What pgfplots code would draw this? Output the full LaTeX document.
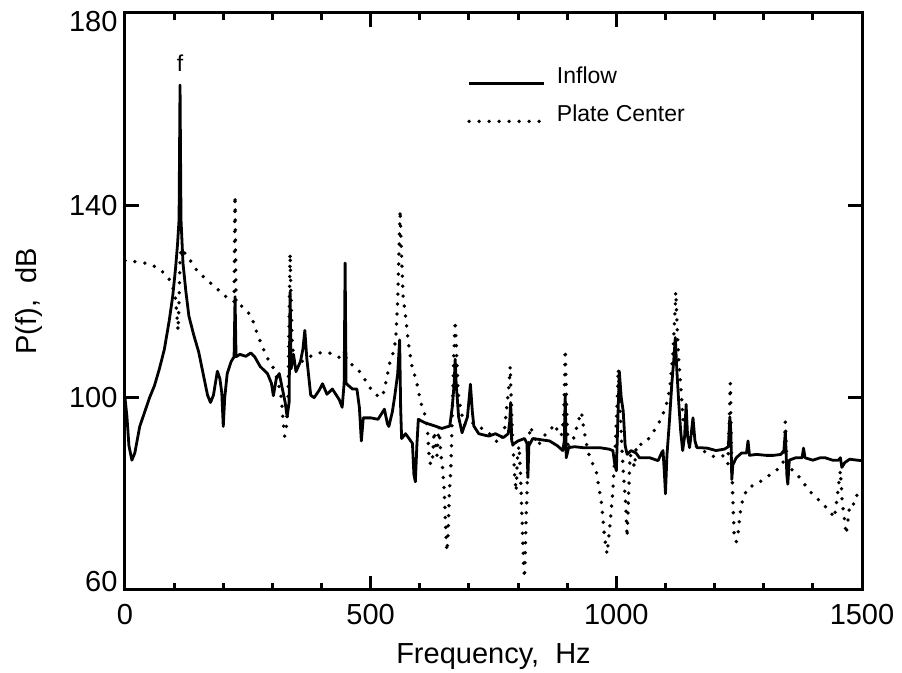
\documentclass[border=0pt]{standalone}
\usepackage{fontspec}
\setmainfont{Liberation Sans}
\usepackage{pgfplots}
\pgfplotsset{compat=1.18}

\begin{document}
\begin{tikzpicture}
\begin{axis}[
    name=ax,
    scale only axis,
    width=737pt, height=577pt,
    xmin=0, xmax=1500, ymin=60, ymax=180,
    xtick={0,500,1000,1500},
    ytick={60,100,140,180},
    minor x tick num=4,
    tick align=inside,
    major tick length=14pt,
    minor tick length=7pt,
    axis line style={line width=3pt},
    every tick/.style={black, line width=3pt},
    /pgf/number format/assume math mode=true,
    /pgf/number format/1000 sep={},
    tick label style={font=\fontsize{29}{29}\selectfont},
    xticklabel style={yshift=-11pt},
    yticklabel style={xshift=-4pt},
    yticklabel={\pgfmathparse{\tick>170 ? -9 : (\tick<70 ? 8 : 0)}%
        \raisebox{\pgfmathresult pt}[\height][\depth]{\pgfmathprintnumber{\tick}}},
    label style={font=\fontsize{29}{29}\selectfont},
    xlabel={Frequency,\ \ Hz},
    xlabel style={yshift=-12pt},
    ylabel={P(f),\ \ dB},
    ylabel style={yshift=20pt},
    legend style={at={(rel axis cs:0.464,0.91)}, anchor=north west,
        draw=none, fill=none, inner sep=0pt,
        font=\fontsize{23}{23}\selectfont, row sep=16pt},
    legend cell align=left,
    legend image code/.code={
        \draw[#1] (0pt,-7pt) -- (75pt,-7pt);
        \path (84pt,0pt);
    },
]

% Inflow
\addplot[black, line width=2.8pt, line join=round] coordinates {
(0,100) (4,96) (8,90) (14,87) (20,88.5) (30,94) (40,97) (50,100) (60,102.5)
(70,106) (80,110) (90,116) (97,121) (103,127) (107,132) (110,137) (112,165)
(114,137) (118,128) (124,122) (130,117) (140,113) (150,109.5) (160,104.5)
(168,100.5) (174,99) (180,100.5) (188,105.5) (193,104) (197,101) (200,94)
(203,100) (208,105) (216,107.5) (222,108.5) (224,121) (226,108.5) (234,109)
(246,108.6) (256,109.3) (264,108.5) (275,106.5) (290,105) (298,103) (302,100.4)
(308,104) (314,105) (320,102) (326,99) (330,96) (334,99) (336,122) (338,106)
(343,109) (348,105.4) (357,107.5) (362,110) (366,114) (370,108.2) (378,100.5)
(385,100) (395,101.5) (402,102.9) (411,100.7) (422,101.8) (436,99.6) (442,98)
(446,103) (448,128) (450,103) (455,102.5) (463,101.8) (472,101.8) (477,98)
(481,91) (485,95.8) (500,95.8) (515,95.5) (528,97.6) (534,94.6) (537,94)
(544,97) (549,100.3) (555,105) (559,112) (561,98) (563,91.5) (571,92.5)
(576,91.8) (585,90.5) (588,84) (591,82.5) (594,90) (597,95.5) (610,94.8)
(631,94.1) (645,93.6) (661,94.1) (666,98) (670,103) (672,108) (674,103)
(679,96) (686,92.7) (697,96) (703,102.8) (707,97) (710,94.1) (720,92.5)
(740,92) (754,92.5) (770,91.7) (780,92.5) (783,95) (785,99) (787,91)
(790,90.3) (800,91) (813,91.5) (818,90.5) (820,83.4) (822,90)
(830,91.5) (850,91.2) (864,91) (880,90) (891,89) (894,91) (896,100.7)
(898,87.5) (903,89.6) (915,89.8) (932,89.6) (950,89.6) (966,89.6) (985,89.3)
(993,89) (997,86) (1000,84.8) (1003,95) (1006,105.5) (1010,100) (1014,97.2)
(1018,90) (1022,88.2) (1030,89) (1040,88.5) (1047,87.5) (1068,87.5) (1085,86.9)
(1092,88.5) (1095,89) (1098,84) (1100,80) (1103,88) (1108,95) (1113,103)
(1117,108) (1120,112.5) (1123,106) (1127,99) (1131,93) (1135,89) (1139,92)
(1142,98.6) (1145,92) (1149,89.6) (1153,93) (1156,95.8) (1160,91) (1164,89.6)
(1170,89.6) (1185,89.5) (1203,89) (1220,89.3) (1228,89.8) (1231,96) (1233,93)
(1235,83) (1237,86) (1244,87.5) (1255,88.5) (1265,88.5) (1268,91) (1271,88)
(1285,88.2) (1305,88) (1320,88) (1335,88.2) (1341,89) (1344,93) (1347,84)
(1349,82) (1352,87) (1365,87.5) (1378,87.5) (1381,89.5) (1384,87.5) (1400,87)
(1415,87.5) (1425,87.5) (1440,87) (1452,87) (1456,87.5) (1459,85.5) (1465,86.5)
(1475,87.2) (1490,87) (1500,86.9)
};
\addlegendentry{Inflow}

% Plate Center
\addplot[black, line width=3.8pt, line cap=round, dash pattern=on 0pt off 10pt] coordinates {
(0,128.5) (20,128.3) (40,128) (60,127.3) (75,126.3) (88,125) (95,123.6)
(102,121.5) (105,118) (108,114) (110,120) (112,128) (114,131) (118,130.5)
(128,129.3) (146,126.5) (166,124.5) (183,123.1) (197,121.7) (214,120.3)
(222,120) (224,142) (226,119.5) (241,118.9) (258,116.8) (263,115) (276,111.5)
(290,108.2) (303,106) (312,103) (318,100) (322,95) (325,92) (328,93) (332,100)
(336,130) (340,112) (344,107.5) (357,107.3) (370,108.2) (385,109) (400,109.4)
(413,109.4) (430,108.8) (437,108.3) (446,108.5) (448,112) (450,107.8) (460,107)
(474,105.9) (488,103.8) (501,101.7) (515,100.3) (520,100) (526,101) (532,103.8)
(539,107.3) (546,109.4) (551,112) (555,120) (558,132) (560,139) (562,132)
(566,121) (571,117) (578,110.4) (585,106) (592,104) (602,99) (612,96) (616,93)
(619,87.5) (622,86) (626,87.5) (629,93) (635,88) (639,94) (643,88) (646,86)
(650,80) (653,72) (655,68) (657,70) (660,80) (663,85) (666,96) (669,108)
(672,116) (675,109) (678,101) (684,97) (692,94.1) (706,94.8) (720,94)
(740,92.7) (760,90.5) (772,93) (778,99) (782,103) (784,106.5) (786,100)
(789,91) (793,84) (796,80.5) (799,88) (802,90) (805,84) (808,75) (811,66)
(813,62.5) (815,70) (818,80) (821,90) (825,94) (832,92) (841,90) (852,92)
(864,93) (874,94.5) (881,93) (888,92) (893,96) (896,110) (899,97) (902,89)
(908,90.5) (915,92) (922,95) (929,97) (933,94) (940,90) (946,87.5) (959,84.8)
(970,77.9) (976,71) (981,67.5) (986,72.3) (993,80.6) (997,88) (1001,97)
(1004,106) (1007,99) (1011,90) (1014,84.8) (1019,77.9) (1022,71) (1025,80)
(1028,88.2) (1033,87) (1037,85.5) (1041,90.3) (1054,90.3) (1068,91.7)
(1081,93.8) (1092,95.8) (1102,98.6) (1109,102) (1115,109) (1119,117)
(1121,122) (1124,114) (1127,108) (1130,104) (1136,95.2) (1149,91.7) (1162,90)
(1176,89) (1190,88.2) (1203,87.5) (1217,87.9) (1227,86.2) (1230,95) (1232,103)
(1234,90) (1237,79.2) (1240,71) (1244,70) (1247,71) (1252,76) (1258,79.2)
(1268,81.3) (1285,82) (1305,83.4) (1325,84.8) (1339,86.2) (1342,90) (1344,95)
(1347,87) (1353,85.5) (1373,83.4) (1393,80.6) (1414,78.5) (1434,76.5) (1444,75)
(1451,80.6) (1456,84.8) (1460,78) (1464,75) (1468,71.6) (1472,75) (1475,77.9)
(1485,77.9) (1492,80.6) (1500,81.3)
};
\addlegendentry{Plate Center}

\node[font=\fontsize{23}{23}\selectfont] at (axis cs:112,169.5) {f};
\end{axis}
\pgfresetboundingbox
\path[use as bounding box] ([shift={(-125pt,-83pt)}]ax.south west)
    rectangle ([shift={(40pt,13pt)}]ax.north east);
\end{tikzpicture}
\end{document}
